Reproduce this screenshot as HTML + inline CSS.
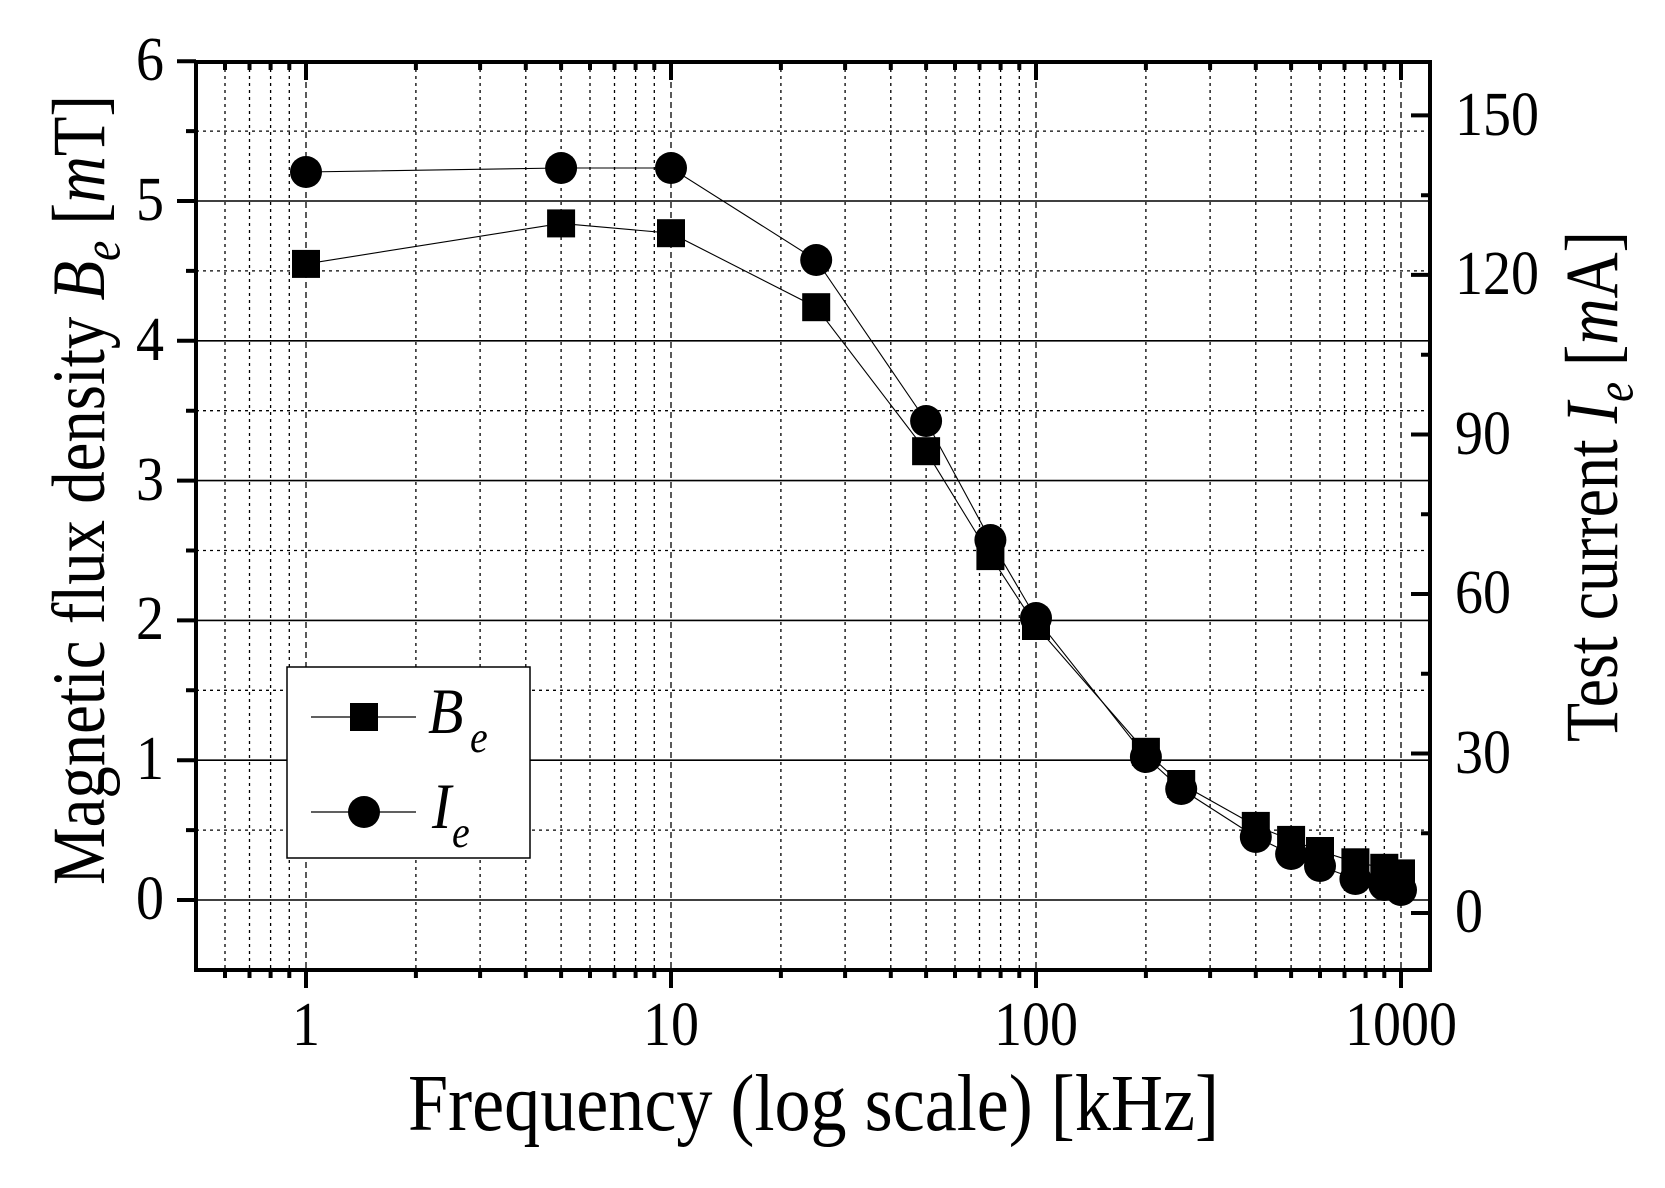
<!DOCTYPE html>
<html><head><meta charset="utf-8"><style>
html,body{margin:0;padding:0;background:#fff;}
svg{display:block;}
text{font-family:"Liberation Serif","DejaVu Serif",serif;fill:#000;}
</style></head><body>
<svg width="1665" height="1188" viewBox="0 0 1665 1188" xmlns="http://www.w3.org/2000/svg">
<rect width="1665" height="1188" fill="#fff"/>
<g stroke="#000" stroke-width="1.3" stroke-dasharray="3,4" fill="none">
<path d="M225,62V970M249.5,62V970M270.6,62V970M289.3,62V970
M415.9,62V970M480.1,62V970M525.8,62V970M561.1,62V970M590,62V970M614.5,62V970M635.6,62V970M654.3,62V970
M780.9,62V970M845.1,62V970M890.8,62V970M926.1,62V970M955,62V970M979.5,62V970M1000.6,62V970M1019.3,62V970
M1145.9,62V970M1210.1,62V970M1255.8,62V970M1291.1,62V970M1320,62V970M1344.5,62V970M1365.6,62V970M1384.3,62V970"/>
<path d="M196,830.1H1430M196,690.3H1430M196,550.5H1430M196,410.7H1430M196,270.9H1430M196,131.1H1430"/>
</g>
<g stroke="#000" stroke-width="1.3" stroke-dasharray="6,4" fill="none">
<path d="M306,62V970M671,62V970M1036,62V970M1401,62V970"/>
</g>
<g stroke="#000" stroke-width="1.6" fill="none">
<path d="M196,900H1430M196,760.2H1430M196,620.4H1430M196,480.6H1430M196,340.8H1430M196,201H1430"/>
</g>
<g stroke="#000" stroke-width="4" fill="none">
<path d="M177,900H196M177,760.2H196M177,620.4H196M177,480.6H196M177,340.8H196M177,201H196M177,61.2H196"/>
<path d="M186,830.1H196M186,690.3H196M186,550.5H196M186,410.7H196M186,270.9H196M186,131.1H196"/>
<path d="M1411,913H1430M1411,753.5H1430M1411,594H1430M1411,434.5H1430M1411,274.9H1430M1411,115.4H1430"/>
<path d="M1421,833.2H1430M1421,673.7H1430M1421,514.2H1430M1421,354.7H1430M1421,195.2H1430"/>
<path d="M306,970V988M671,970V988M1036,970V988M1401,970V988"/>
<path d="M225,970V978M249.5,970V978M270.6,970V978M289.3,970V978
M415.9,970V978M480.1,970V978M525.8,970V978M561.1,970V978M590,970V978M614.5,970V978M635.6,970V978M654.3,970V978
M780.9,970V978M845.1,970V978M890.8,970V978M926.1,970V978M955,970V978M979.5,970V978M1000.6,970V978M1019.3,970V978
M1145.9,970V978M1210.1,970V978M1255.8,970V978M1291.1,970V978M1320,970V978M1344.5,970V978M1365.6,970V978M1384.3,970V978"/>
<path d="M306,62V80M671,62V80M1036,62V80M1401,62V80"/>
<path d="M225,62V70M249.5,62V70M270.6,62V70M289.3,62V70
M415.9,62V70M480.1,62V70M525.8,62V70M561.1,62V70M590,62V70M614.5,62V70M635.6,62V70M654.3,62V70
M780.9,62V70M845.1,62V70M890.8,62V70M926.1,62V70M955,62V70M979.5,62V70M1000.6,62V70M1019.3,62V70
M1145.9,62V70M1210.1,62V70M1255.8,62V70M1291.1,62V70M1320,62V70M1344.5,62V70M1365.6,62V70M1384.3,62V70"/>
<rect x="196" y="62" width="1234" height="908"/>
</g>
<rect x="287" y="667" width="243" height="191" fill="#fff" stroke="#000" stroke-width="1.5"/>
<g stroke="#000" stroke-width="1.3"><path d="M311,717H416M311,812H416"/></g>
<rect x="350" y="703" width="28" height="28" fill="#000"/>
<circle cx="364" cy="812" r="16" fill="#000"/>
<g transform="scale(1,1.12)">
<text x="428" y="654.5" font-size="58" font-style="italic">B</text>
<text x="470" y="671.4" font-size="40" font-style="italic">e</text>
<text x="432" y="739.3" font-size="58" font-style="italic">I</text>
<text x="452" y="756.3" font-size="40" font-style="italic">e</text>
</g>
<g stroke="#000" stroke-width="1.1" fill="none">
<polyline points="306,263.9 561.1,223.4 671,233.2 816.2,307.2 926.1,451.2 990.4,556.1 1036,626 1145.9,751.8 1181.2,784 1255.8,825.9 1291.1,839.9 1320,851 1355.4,862.3 1384.3,867.8 1401,873.4"/>
<polyline points="306,172 561.1,168 671,168 816.2,260 926.1,421 990.4,540 1036,618 1145.9,757 1181.2,789 1255.8,837 1291.1,854 1320,866 1355.4,879 1384.3,885 1401,890"/>
</g>
<g fill="#000">
<rect x="292" y="249.9" width="28" height="28"/><rect x="547.1" y="209.4" width="28" height="28"/><rect x="657" y="219.2" width="28" height="28"/><rect x="802.2" y="293.2" width="28" height="28"/><rect x="912.1" y="437.2" width="28" height="28"/><rect x="976.4" y="542.1" width="28" height="28"/><rect x="1022" y="612" width="28" height="28"/><rect x="1131.9" y="737.8" width="28" height="28"/><rect x="1167.2" y="770" width="28" height="28"/><rect x="1241.8" y="811.9" width="28" height="28"/><rect x="1277.1" y="825.9" width="28" height="28"/><rect x="1306" y="837" width="28" height="28"/><rect x="1341.4" y="848.3" width="28" height="28"/><rect x="1370.3" y="853.8" width="28" height="28"/><rect x="1387" y="859.4" width="28" height="28"/>
<circle cx="306" cy="172" r="16"/><circle cx="561.1" cy="168" r="16"/><circle cx="671" cy="168" r="16"/><circle cx="816.2" cy="260" r="16"/><circle cx="926.1" cy="421" r="16"/><circle cx="990.4" cy="540" r="16"/><circle cx="1036" cy="618" r="16"/><circle cx="1145.9" cy="757" r="16"/><circle cx="1181.2" cy="789" r="16"/><circle cx="1255.8" cy="837" r="16"/><circle cx="1291.1" cy="854" r="16"/><circle cx="1320" cy="866" r="16"/><circle cx="1355.4" cy="879" r="16"/><circle cx="1384.3" cy="885" r="16"/><circle cx="1401" cy="890" r="16"/>
</g>
<g transform="scale(1,1.12)">
<g font-size="56" text-anchor="end">
<text x="164" y="820.5">0</text><text x="164" y="695.5">1</text><text x="164" y="570.5">2</text><text x="164" y="446.4">3</text><text x="164" y="321.4">4</text><text x="164" y="196.4">5</text><text x="164" y="71.4">6</text>
</g>
<g font-size="56" text-anchor="start">
<text x="1455" y="832.1">0</text><text x="1455" y="690.2">30</text><text x="1455" y="547.3">60</text><text x="1455" y="405.4">90</text><text x="1455" y="262.5">120</text><text x="1455" y="120.5">150</text>
</g>
<g font-size="56" text-anchor="middle">
<text x="306" y="933">1</text><text x="671" y="933">10</text><text x="1036" y="933">100</text><text x="1401" y="933">1000</text>
</g>
<text x="408" y="1009" font-size="72" textLength="811" lengthAdjust="spacingAndGlyphs">Frequency (log scale) [kHz]</text>
</g>
<text transform="translate(104,885) rotate(-90) scale(1,1.1)" font-size="68" textLength="790" lengthAdjust="spacingAndGlyphs">Magnetic flux density <tspan font-style="italic">B</tspan><tspan font-style="italic" font-size="48" dy="14">e</tspan><tspan dy="-14"> [</tspan><tspan font-style="italic">m</tspan>T]</text>
<text transform="translate(1617,742) rotate(-90) scale(1,1.1)" font-size="68" textLength="511" lengthAdjust="spacingAndGlyphs">Test current <tspan font-style="italic">I</tspan><tspan font-style="italic" font-size="48" dy="14">e</tspan><tspan dy="-14"> [</tspan><tspan font-style="italic">m</tspan>A]</text>
</svg>
</body></html>
